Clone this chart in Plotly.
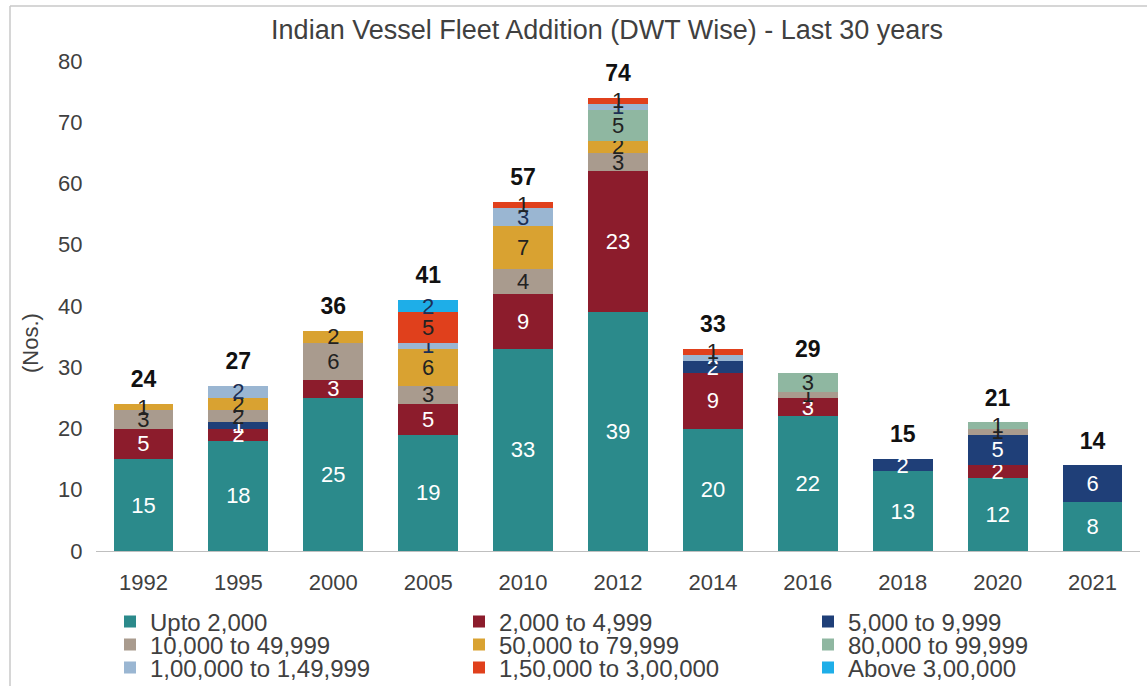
import plotly.graph_objects as go

years = ["1992", "1995", "2000", "2005", "2010", "2012", "2014", "2016", "2018", "2020", "2021"]

series_names = [
    "Upto 2,000", "2,000 to 4,999", "5,000 to 9,999",
    "10,000 to 49,999", "50,000 to 79,999", "80,000 to 99,999",
    "1,00,000 to 1,49,999", "1,50,000 to 3,00,000", "Above 3,00,000",
]

upto_2000      = [15, 18, 25, 19, 33, 39, 20, 22, 13, 12, 8]
d2000_4999     = [5, 2, 3, 5, 9, 23, 9, 3, 0, 2, 0]
d5000_9999     = [0, 1, 0, 0, 0, 0, 2, 0, 2, 5, 6]
d10000_49999   = [3, 2, 6, 3, 4, 3, 0, 1, 0, 1, 0]
d50000_79999   = [1, 2, 2, 6, 7, 2, 0, 0, 0, 0, 0]
d80000_99999   = [0, 0, 0, 0, 0, 5, 0, 3, 0, 1, 0]
d100000_149999 = [0, 2, 0, 1, 3, 1, 1, 0, 0, 0, 0]
d150000_300000 = [0, 0, 0, 5, 1, 1, 1, 0, 0, 0, 0]
above_300000   = [0, 0, 0, 2, 0, 0, 0, 0, 0, 0, 0]

series_values = [upto_2000, d2000_4999, d5000_9999, d10000_49999, d50000_79999,
                 d80000_99999, d100000_149999, d150000_300000, above_300000]

colors = ["#2b8a8b", "#8c1c2c", "#1f3f78", "#a99b8e", "#d9a231",
          "#8fb7a1", "#9ab6d2", "#e0401c", "#1eaee8"]
label_colors = ["white", "white", "white", "#222222", "#222222",
                "#222222", "#1c2f55", "#222222", "#1c2f55"]
legend_ids = ["legend", "legend", "legend", "legend2", "legend2", "legend2",
              "legend3", "legend3", "legend3"]

FONT = "Liberation Sans, Arial, sans-serif"
TXT = "#404040"

fig = go.Figure()
for name, vals, col, lc, lg in zip(series_names, series_values, colors, label_colors, legend_ids):
    fig.add_trace(go.Bar(
        x=years, y=vals, name=name, legend=lg,
        marker=dict(color=col, line=dict(width=0)),
        text=[str(v) if v else "" for v in vals],
        textposition="inside", insidetextanchor="middle", textangle=0,
        textfont=dict(color=lc, size=22, family=FONT),
        hoverinfo="x+y+name",
    ))

totals = [sum(col) for col in zip(*series_values)]
fig.add_trace(go.Scatter(
    x=years, y=totals, mode="markers+text", text=[f"<b>{t}</b>" for t in totals],
    marker=dict(size=16, color="rgba(0,0,0,0)"),
    textposition="top center", textfont=dict(size=23, color="#111111", family=FONT),
    showlegend=False, hoverinfo="skip", cliponaxis=False,
))

W, H = 1147, 686
L, R, T, B = 96, 7, 61, 135
pw, ph = W - L - R, H - T - B

def px_x(p):
    return (p - L) / pw

def px_y(p):
    return (H - B - p) / ph

def legend_row(yc):
    return dict(orientation="h", x=px_x(110), xanchor="left", y=px_y(yc), yanchor="middle",
                entrywidth=304, entrywidthmode="pixels", itemwidth=30,
                font=dict(size=24, color=TXT, family=FONT),
                traceorder="normal", bgcolor="rgba(0,0,0,0)")

fig.update_layout(
    width=W, height=H,
    margin=dict(l=L, r=R, t=T, b=B, autoexpand=False),
    barmode="stack", bargap=0.37,
    plot_bgcolor="white", paper_bgcolor="white",
    font=dict(family=FONT, color=TXT, size=22),
    uniformtext=dict(minsize=22, mode="show"),
    title=dict(text="Indian Vessel Fleet Addition (DWT Wise) - Last 30 years",
               x=px_x(607), xanchor="center", y=1 - 30 / H, yanchor="middle",
               xref="paper", yref="container",
               font=dict(size=27, color=TXT, family=FONT)),
    legend=legend_row(622),
    legend2=legend_row(645),
    legend3=legend_row(668),
    xaxis=dict(range=[-0.5, len(years) - 0.5], autorange=False,
               showline=True, linecolor="#bfbfbf", linewidth=1, showgrid=False,
               ticks="outside", ticklen=12, tickcolor="rgba(0,0,0,0)",
               tickfont=dict(size=22, color=TXT), fixedrange=True),
    yaxis=dict(range=[0, 80], dtick=10, showgrid=False, zeroline=False, showline=False,
               ticks="outside", ticklen=8, tickcolor="rgba(0,0,0,0)",
               tickfont=dict(size=22, color=TXT)),
    annotations=[dict(text="(Nos.)", textangle=-90, xref="paper", yref="paper",
                      x=px_x(30), y=px_y(343), xanchor="center", yanchor="middle",
                      showarrow=False, font=dict(size=22, color=TXT, family=FONT))],
    showlegend=True,
    shapes=[
        dict(type="line", xref="paper", yref="paper", x0=px_x(10), x1=px_x(10),
             y0=px_y(6), y1=px_y(686), line=dict(color="#c8c8c8", width=1.5)),
        dict(type="line", xref="paper", yref="paper", x0=px_x(10), x1=px_x(1147),
             y0=px_y(6), y1=px_y(6), line=dict(color="#c8c8c8", width=1.5)),
    ],
)

fig.write_html("out.html")
